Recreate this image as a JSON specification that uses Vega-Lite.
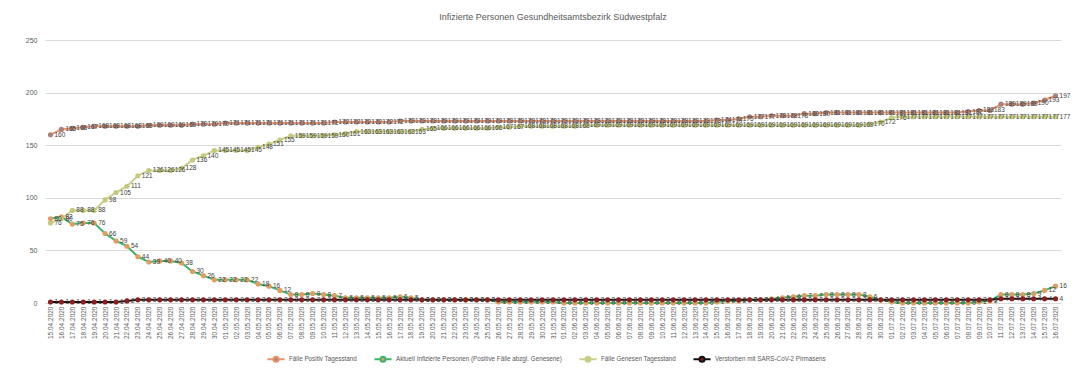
{
  "$schema": "https://vega.github.io/schema/vega-lite/v6.json",
  "width": 1016,
  "height": 263,
  "autosize": {"type": "none"},
  "padding": {"left": 45, "top": 40, "right": 23, "bottom": 66},
  "background": "white",
  "title": {
    "text": "Infizierte Personen Gesundheitsamtsbezirk Südwestpfalz",
    "fontSize": 9,
    "fontWeight": "normal",
    "color": "#595959",
    "anchor": "middle",
    "offset": 14
  },
  "config": {
    "font": "Liberation Sans",
    "view": {"stroke": null}
  },
  "data": {
    "values": [
      {"d": "15.04.2020", "P": 160, "A": 80, "G": 76, "V": 1},
      {"d": "16.04.2020", "P": 165, "A": 82, "G": 80, "V": 1},
      {"d": "17.04.2020", "P": 166, "A": 75, "G": 88, "V": 1},
      {"d": "18.04.2020", "P": 167, "A": 76, "G": 88, "V": 1},
      {"d": "19.04.2020", "P": 168, "A": 76, "G": 88, "V": 1},
      {"d": "20.04.2020", "P": 168, "A": 66, "G": 98, "V": 1},
      {"d": "21.04.2020", "P": 168, "A": 59, "G": 105, "V": 1},
      {"d": "22.04.2020", "P": 168, "A": 54, "G": 111, "V": 2},
      {"d": "23.04.2020", "P": 168, "A": 44, "G": 121, "V": 3},
      {"d": "24.04.2020", "P": 169, "A": 39, "G": 126, "V": 3},
      {"d": "25.04.2020", "P": 169, "A": 40, "G": 126, "V": 3},
      {"d": "26.04.2020", "P": 169, "A": 40, "G": 126, "V": 3},
      {"d": "27.04.2020", "P": 169, "A": 38, "G": 128, "V": 3},
      {"d": "28.04.2020", "P": 170, "A": 30, "G": 136, "V": 3},
      {"d": "29.04.2020", "P": 170, "A": 26, "G": 140, "V": 3},
      {"d": "30.04.2020", "P": 170, "A": 22, "G": 145, "V": 3},
      {"d": "01.05.2020", "P": 171, "A": 22, "G": 145, "V": 3},
      {"d": "02.05.2020", "P": 171, "A": 22, "G": 145, "V": 3},
      {"d": "03.05.2020", "P": 171, "A": 22, "G": 145, "V": 3},
      {"d": "04.05.2020", "P": 171, "A": 18, "G": 148, "V": 3},
      {"d": "05.05.2020", "P": 171, "A": 16, "G": 151, "V": 3},
      {"d": "06.05.2020", "P": 171, "A": 12, "G": 155, "V": 3},
      {"d": "07.05.2020", "P": 171, "A": 8, "G": 159, "V": 3},
      {"d": "08.05.2020", "P": 171, "A": 8, "G": 159, "V": 3},
      {"d": "09.05.2020", "P": 171, "A": 9, "G": 159, "V": 3},
      {"d": "10.05.2020", "P": 171, "A": 8, "G": 159, "V": 3},
      {"d": "11.05.2020", "P": 172, "A": 7, "G": 160, "V": 3},
      {"d": "12.05.2020", "P": 172, "A": 5, "G": 161, "V": 3},
      {"d": "13.05.2020", "P": 172, "A": 5, "G": 163, "V": 3},
      {"d": "14.05.2020", "P": 172, "A": 5, "G": 163, "V": 3},
      {"d": "15.05.2020", "P": 172, "A": 5, "G": 163, "V": 3},
      {"d": "16.05.2020", "P": 172, "A": 5, "G": 163, "V": 3},
      {"d": "17.05.2020", "P": 173, "A": 6, "G": 163, "V": 3},
      {"d": "18.05.2020", "P": 173, "A": 5, "G": 163, "V": 3},
      {"d": "19.05.2020", "P": 173, "A": 3, "G": 165, "V": 3},
      {"d": "20.05.2020", "P": 173, "A": 3, "G": 166, "V": 3},
      {"d": "21.05.2020", "P": 173, "A": 3, "G": 166, "V": 3},
      {"d": "22.05.2020", "P": 173, "A": 3, "G": 166, "V": 3},
      {"d": "23.05.2020", "P": 173, "A": 3, "G": 166, "V": 3},
      {"d": "24.05.2020", "P": 173, "A": 3, "G": 166, "V": 3},
      {"d": "25.05.2020", "P": 173, "A": 3, "G": 166, "V": 3},
      {"d": "26.05.2020", "P": 173, "A": 1, "G": 167, "V": 3},
      {"d": "27.05.2020", "P": 173, "A": 1, "G": 167, "V": 3},
      {"d": "28.05.2020", "P": 173, "A": 1, "G": 168, "V": 3},
      {"d": "29.05.2020", "P": 173, "A": 1, "G": 168, "V": 3},
      {"d": "30.05.2020", "P": 173, "A": 1, "G": 168, "V": 3},
      {"d": "31.05.2020", "P": 173, "A": 1, "G": 168, "V": 3},
      {"d": "01.06.2020", "P": 173, "A": 0, "G": 168, "V": 3},
      {"d": "02.06.2020", "P": 173, "A": 0, "G": 168, "V": 3},
      {"d": "03.06.2020", "P": 173, "A": 0, "G": 169, "V": 3},
      {"d": "04.06.2020", "P": 173, "A": 0, "G": 169, "V": 3},
      {"d": "05.06.2020", "P": 173, "A": 0, "G": 169, "V": 3},
      {"d": "06.06.2020", "P": 173, "A": 0, "G": 169, "V": 3},
      {"d": "07.06.2020", "P": 173, "A": 0, "G": 169, "V": 3},
      {"d": "08.06.2020", "P": 173, "A": 0, "G": 169, "V": 3},
      {"d": "09.06.2020", "P": 173, "A": 0, "G": 169, "V": 3},
      {"d": "10.06.2020", "P": 173, "A": 0, "G": 169, "V": 3},
      {"d": "11.06.2020", "P": 173, "A": 0, "G": 169, "V": 3},
      {"d": "12.06.2020", "P": 173, "A": 0, "G": 169, "V": 3},
      {"d": "13.06.2020", "P": 173, "A": 0, "G": 169, "V": 3},
      {"d": "14.06.2020", "P": 173, "A": 0, "G": 169, "V": 3},
      {"d": "15.06.2020", "P": 174, "A": 1, "G": 169, "V": 3},
      {"d": "16.06.2020", "P": 174, "A": 2, "G": 169, "V": 3},
      {"d": "17.06.2020", "P": 175, "A": 2, "G": 169, "V": 3},
      {"d": "18.06.2020", "P": 177, "A": 3, "G": 169, "V": 3},
      {"d": "19.06.2020", "P": 177, "A": 3, "G": 169, "V": 3},
      {"d": "20.06.2020", "P": 178, "A": 4, "G": 169, "V": 3},
      {"d": "21.06.2020", "P": 178, "A": 5, "G": 169, "V": 3},
      {"d": "22.06.2020", "P": 178, "A": 6, "G": 169, "V": 3},
      {"d": "23.06.2020", "P": 180, "A": 7, "G": 169, "V": 3},
      {"d": "24.06.2020", "P": 180, "A": 7, "G": 169, "V": 3},
      {"d": "25.06.2020", "P": 181, "A": 8, "G": 169, "V": 3},
      {"d": "26.06.2020", "P": 181, "A": 8, "G": 169, "V": 3},
      {"d": "27.06.2020", "P": 181, "A": 8, "G": 169, "V": 3},
      {"d": "28.06.2020", "P": 181, "A": 8, "G": 169, "V": 3},
      {"d": "29.06.2020", "P": 181, "A": 6, "G": 170, "V": 3},
      {"d": "30.06.2020", "P": 181, "A": 3, "G": 172, "V": 3},
      {"d": "01.07.2020", "P": 181, "A": 1, "G": 176, "V": 3},
      {"d": "02.07.2020", "P": 181, "A": 0, "G": 177, "V": 3},
      {"d": "03.07.2020", "P": 181, "A": 0, "G": 177, "V": 3},
      {"d": "04.07.2020", "P": 181, "A": 0, "G": 177, "V": 3},
      {"d": "05.07.2020", "P": 181, "A": 0, "G": 177, "V": 3},
      {"d": "06.07.2020", "P": 181, "A": 0, "G": 177, "V": 3},
      {"d": "07.07.2020", "P": 181, "A": 0, "G": 177, "V": 3},
      {"d": "08.07.2020", "P": 182, "A": 0, "G": 177, "V": 3},
      {"d": "09.07.2020", "P": 183, "A": 1, "G": 177, "V": 3},
      {"d": "10.07.2020", "P": 183, "A": 2, "G": 177, "V": 3},
      {"d": "11.07.2020", "P": 189, "A": 8, "G": 177, "V": 4},
      {"d": "12.07.2020", "P": 189, "A": 8, "G": 177, "V": 4},
      {"d": "13.07.2020", "P": 189, "A": 8, "G": 177, "V": 4},
      {"d": "14.07.2020", "P": 190, "A": 9, "G": 177, "V": 4},
      {"d": "15.07.2020", "P": 193, "A": 12, "G": 177, "V": 4},
      {"d": "16.07.2020", "P": 197, "A": 16, "G": 177, "V": 4}
    ]
  },
  "transform": [{"fold": ["P", "A", "G", "V"], "as": ["s", "v"]}],
  "encoding": {
    "x": {
      "field": "d",
      "type": "ordinal",
      "sort": null,
      "scale": {"type": "point", "padding": 0.5},
      "axis": {
        "title": null,
        "labelAngle": -90,
        "labelFontSize": 6.5,
        "labelColor": "#595959",
        "labelOverlap": false,
        "labelPadding": 3,
        "ticks": false,
        "domainColor": "#d9d9d9",
        "grid": false
      }
    },
    "y": {
      "field": "v",
      "type": "quantitative",
      "scale": {"domain": [0, 250], "nice": false},
      "axis": {
        "title": null,
        "values": [0, 50, 100, 150, 200, 250],
        "labelFontSize": 7,
        "labelColor": "#595959",
        "labelPadding": 8,
        "ticks": false,
        "domain": false,
        "gridColor": "#d9d9d9",
        "gridWidth": 1
      }
    }
  },
  "layer": [
    {
      "mark": {"type": "line", "strokeWidth": 2},
      "encoding": {
        "color": {
          "field": "s",
          "type": "nominal",
          "scale": {
            "domain": ["P", "A", "G", "V"],
            "range": ["#e8946b", "#3cb46e", "#c9d08c", "#111111"]
          },
          "legend": {
            "title": null,
            "orient": "none",
            "legendX": 224,
            "legendY": 312,
            "direction": "horizontal",
            "symbolType": "M-1.5,0L-0.45,0M0.45,0L1.5,0M0.45,0A0.45,0.45,0,1,1,-0.45,0A0.45,0.45,0,1,1,0.45,0Z",
            "symbolSize": 130,
            "symbolStrokeWidth": 2,
            "labelFontSize": 6.3,
            "labelColor": "#595959",
            "labelLimit": 400,
            "labelOffset": 6,
            "columnPadding": 13,
            "labelExpr": "datum.value == 'P' ? 'Fälle Positiv Tagesstand' : datum.value == 'A' ? 'Aktuell Infizierte Personen (Positive Fälle abzgl. Genesene)' : datum.value == 'G' ? 'Fälle Genesen Tagesstand' : 'Verstorben mit SARS-CoV-2 Pirmasens'",
            "encode": {
              "symbols": {"update": {"fill": {"scale": "fill", "field": "value"}}}
            }
          }
        }
      }
    },
    {
      "mark": {"type": "circle", "size": 26, "opacity": 1},
      "encoding": {
        "fill": {
          "field": "s",
          "type": "nominal",
          "scale": {
            "domain": ["P", "A", "G", "V"],
            "range": ["#a8827c", "#e39b5e", "#c4c97a", "#8b1e1e"]
          },
          "legend": null
        }
      }
    },
    {
      "mark": {"type": "text", "align": "left", "baseline": "middle", "dx": 4, "fontSize": 6.5, "color": "#404040"},
      "encoding": {
        "text": {"field": "v", "type": "quantitative"}
      }
    }
  ]
}
